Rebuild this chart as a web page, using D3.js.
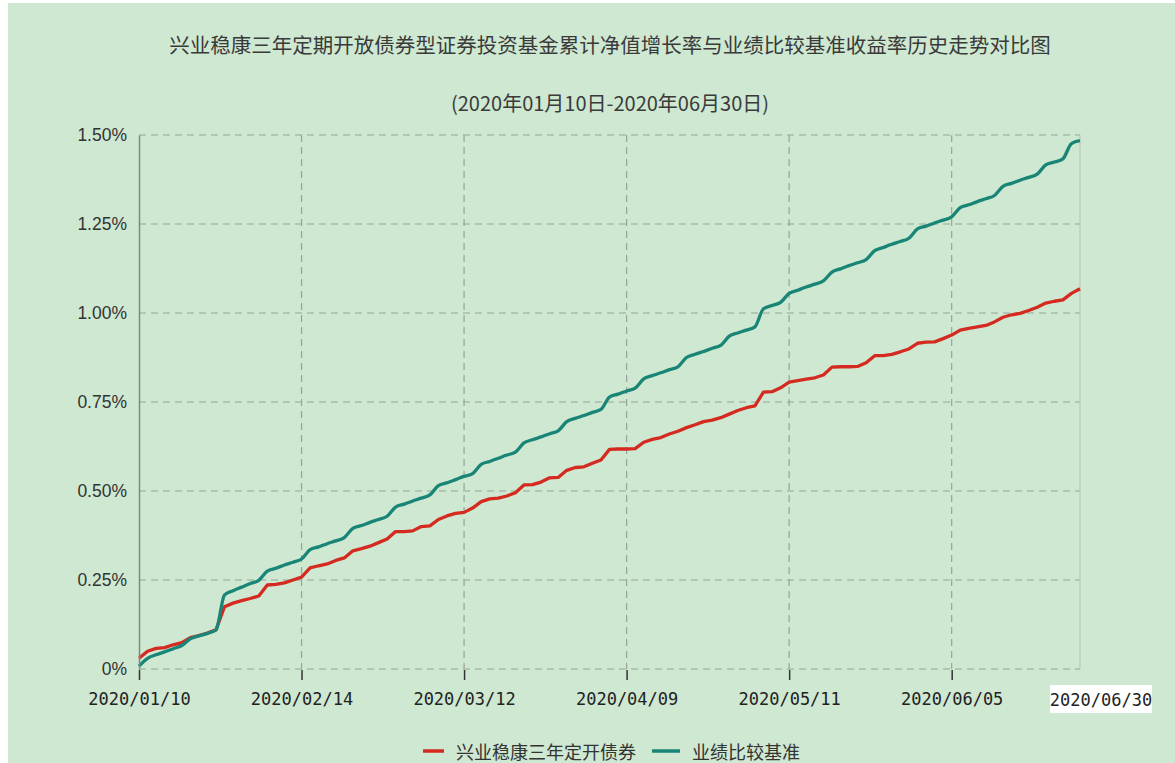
<!DOCTYPE html>
<html>
<head>
<meta charset="utf-8">
<script src="https://cdn.jsdelivr.net/npm/d3@7"></script>
<style>
  body { margin: 0; background: #ffffff; }
  svg { display: block; }
</style>
</head>
<body>
<svg id="canvas"></svg>
<script>
const titleText = '兴业稳康三年定期开放债券型证券投资基金累计净值增长率与业绩比较基准收益率历史走势对比图'
const subTitleText = '(2020年01月10日-2020年06月30日)'
const seriesNames = ['兴业稳康三年定开债券', '业绩比较基准']

// trading days (2020)
const days = [
  '01/10','01/13','01/14','01/15','01/16','01/17','01/20','01/21','01/22','01/23',
  '02/03','02/04','02/05','02/06','02/07','02/10','02/11','02/12','02/13','02/14',
  '02/17','02/18','02/19','02/20','02/21','02/24','02/25','02/26','02/27','02/28',
  '03/02','03/03','03/04','03/05','03/06','03/09','03/10','03/11','03/12','03/13',
  '03/16','03/17','03/18','03/19','03/20','03/23','03/24','03/25','03/26','03/27',
  '03/30','03/31','04/01','04/02','04/03','04/07','04/08','04/09','04/10','04/13',
  '04/14','04/15','04/16','04/17','04/20','04/21','04/22','04/23','04/24','04/27',
  '04/28','04/29','04/30','05/06','05/07','05/08','05/11','05/12','05/13','05/14',
  '05/15','05/18','05/19','05/20','05/21','05/22','05/25','05/26','05/27','05/28',
  '05/29','06/01','06/02','06/03','06/04','06/05','06/08','06/09','06/10','06/11',
  '06/12','06/15','06/16','06/17','06/18','06/19','06/22','06/23','06/24','06/29',
  '06/30'
]

// 累计净值增长率 (%)
const fundValues = [
  0.030,0.050,0.058,0.060,0.068,0.074,0.088,0.094,0.101,0.110,
  0.175,0.185,0.192,0.198,0.205,0.236,0.238,0.242,0.250,0.258,
  0.284,0.290,0.295,0.305,0.312,0.332,0.338,0.345,0.355,0.365,
  0.386,0.386,0.388,0.400,0.402,0.420,0.430,0.437,0.440,0.452,
  0.470,0.478,0.480,0.486,0.495,0.517,0.518,0.525,0.537,0.538,
  0.558,0.566,0.568,0.578,0.587,0.617,0.618,0.618,0.619,0.637,
  0.645,0.650,0.660,0.668,0.678,0.686,0.695,0.699,0.706,0.716,
  0.726,0.734,0.739,0.778,0.779,0.790,0.806,0.810,0.814,0.818,
  0.826,0.848,0.849,0.849,0.850,0.860,0.880,0.880,0.884,0.891,
  0.899,0.915,0.918,0.919,0.928,0.938,0.952,0.957,0.961,0.965,
  0.975,0.988,0.995,0.999,1.007,1.016,1.028,1.033,1.037,1.055,
  1.068
]

// 业绩比较基准收益率 (%)
const benchValues = [
  0.008,0.030,0.040,0.048,0.057,0.066,0.085,0.093,0.100,0.110,
  0.208,0.220,0.230,0.240,0.249,0.275,0.283,0.292,0.300,0.309,
  0.335,0.343,0.352,0.360,0.369,0.395,0.403,0.412,0.420,0.429,
  0.455,0.463,0.472,0.480,0.489,0.515,0.523,0.532,0.541,0.549,
  0.575,0.583,0.592,0.601,0.609,0.635,0.644,0.652,0.661,0.669,
  0.695,0.704,0.712,0.721,0.729,0.764,0.772,0.781,0.789,0.815,
  0.824,0.832,0.841,0.849,0.875,0.884,0.892,0.901,0.909,0.935,
  0.944,0.952,0.961,1.012,1.021,1.030,1.055,1.064,1.073,1.081,
  1.090,1.115,1.124,1.133,1.141,1.150,1.175,1.184,1.193,1.201,
  1.210,1.236,1.244,1.253,1.261,1.270,1.296,1.304,1.313,1.321,
  1.330,1.356,1.364,1.373,1.381,1.390,1.416,1.424,1.433,1.476,
  1.484
]

const xTickDays = ['01/10', '02/14', '03/12', '04/09', '05/11', '06/05']
const lastDay = '06/30'
const yTicks = [0, 0.25, 0.5, 0.75, 1.0, 1.25, 1.5]

const width = 1175
const height = 763
const plot = { left: 139, right: 1080, top: 135, bottom: 669 }
const colors = ['#d42a20', '#198576']
const bg = '#cee8d1'
const cjk = '"Noto Sans CJK SC", "Noto Sans", sans-serif'

const svg = d3.select('#canvas')
  .attr('width', width)
  .attr('height', height)

let xScale, yScale

const generateCanvas = () => {
  svg.append('rect')
    .attr('x', 8).attr('y', 3)
    .attr('width', width - 8).attr('height', height - 3)
    .attr('fill', bg)

  svg.append('text')
    .attr('x', 610).attr('y', 53)
    .attr('text-anchor', 'middle')
    .style('font-family', cjk)
    .style('font-size', '20.5px')
    .attr('fill', '#3a3a3a')
    .text(titleText)

  svg.append('text')
    .attr('x', 610).attr('y', 111)
    .attr('text-anchor', 'middle')
    .style('font-family', cjk)
    .style('font-size', '20px')
    .attr('fill', '#3a3a3a')
    .text(subTitleText)
}

const generateScales = () => {
  xScale = d3.scalePoint()
    .domain(days)
    .range([plot.left, plot.right])

  yScale = d3.scaleLinear()
    .domain([0, 1.5])
    .range([plot.bottom, plot.top])
}

const generateGrid = () => {
  const grid = svg.append('g')

  grid.selectAll('.hgrid')
    .data(yTicks)
    .enter()
    .append('line')
    .attr('x1', plot.left).attr('x2', plot.right)
    .attr('y1', d => yScale(d)).attr('y2', d => yScale(d))
    .attr('stroke', '#98a39a')
    .attr('stroke-width', 1.2)
    .attr('stroke-dasharray', '7,5')

  grid.selectAll('.vgrid')
    .data(xTickDays.slice(1))
    .enter()
    .append('line')
    .attr('x1', d => xScale(d)).attr('x2', d => xScale(d))
    .attr('y1', plot.top).attr('y2', plot.bottom)
    .attr('stroke', '#98a39a')
    .attr('stroke-width', 1.2)
    .attr('stroke-dasharray', '7,5')

  // right border
  grid.append('line')
    .attr('x1', xScale(lastDay)).attr('x2', xScale(lastDay))
    .attr('y1', plot.top).attr('y2', plot.bottom)
    .attr('stroke', '#b3c4b5')
    .attr('stroke-width', 1)
}

const generateAxis = () => {
  const yAxis = d3.axisLeft(yScale)
    .tickValues(yTicks)
    .tickSize(0)
    .tickPadding(12)
    .tickFormat(d => d === 0 ? '0%' : d.toFixed(2) + '%')

  const gy = svg.append('g')
    .attr('transform', 'translate(' + plot.left + ',0)')
    .call(yAxis)
  gy.select('.domain').attr('stroke', '#7d8a7f').attr('stroke-width', 1.5)
  gy.selectAll('text')
    .style('font-family', '"Liberation Sans", Arial, sans-serif')
    .style('font-size', '17.5px')
    .attr('fill', '#333')

  const xAxis = d3.axisBottom(xScale)
    .tickValues(xTickDays)
    .tickSize(10)
    .tickPadding(13)
    .tickFormat(d => '2020/' + d)

  const gx = svg.append('g')
    .attr('transform', 'translate(0,' + (plot.bottom + 1) + ')')
    .call(xAxis)
  gx.select('.domain').remove()
  gx.selectAll('line').attr('stroke', '#333').attr('stroke-width', 1.5)
  gx.selectAll('text')
    .style('font-family', '"DejaVu Sans Mono", monospace')
    .style('font-size', '17px')
    .attr('fill', '#222')

  // end date label on white
  const lx = xScale(lastDay) + 21
  svg.append('rect')
    .attr('x', lx - 51).attr('y', 685)
    .attr('width', 102).attr('height', 28)
    .attr('fill', '#ffffff')
  svg.append('text')
    .attr('x', lx).attr('y', 706)
    .attr('text-anchor', 'middle')
    .style('font-family', '"DejaVu Sans Mono", monospace')
    .style('font-size', '17px')
    .attr('fill', '#222')
    .text('2020/' + lastDay)
}

const generateLines = () => {
  const series = [fundValues, benchValues]
  const curves = [d3.curveLinear, d3.curveMonotoneX]

  series.forEach((vals, i) => {
    const line = d3.line()
      .x((d, j) => xScale(days[j]))
      .y(d => yScale(d))
      .curve(curves[i])

    svg.append('path')
      .datum(vals)
      .attr('d', line)
      .attr('fill', 'none')
      .attr('stroke', colors[i])
      .attr('stroke-width', 3.3)
      .attr('stroke-linejoin', 'round')
  })
}

const generateLegend = () => {
  const items = [
    { name: seriesNames[0], color: colors[0], x: 423, w: 21 },
    { name: seriesNames[1], color: colors[1], x: 652, w: 28 }
  ]
  const legend = svg.append('g')
  items.forEach(it => {
    legend.append('line')
      .attr('x1', it.x).attr('x2', it.x + it.w)
      .attr('y1', 751).attr('y2', 751)
      .attr('stroke', it.color)
      .attr('stroke-width', 3.5)
    legend.append('text')
      .attr('x', it.x + it.w + 12).attr('y', 759)
      .style('font-family', cjk)
      .style('font-size', '18px')
      .attr('fill', '#333')
      .text(it.name)
  })
}

generateCanvas()
generateScales()
generateGrid()
generateLines()
generateAxis()
generateLegend()
</script>
</body>
</html>
